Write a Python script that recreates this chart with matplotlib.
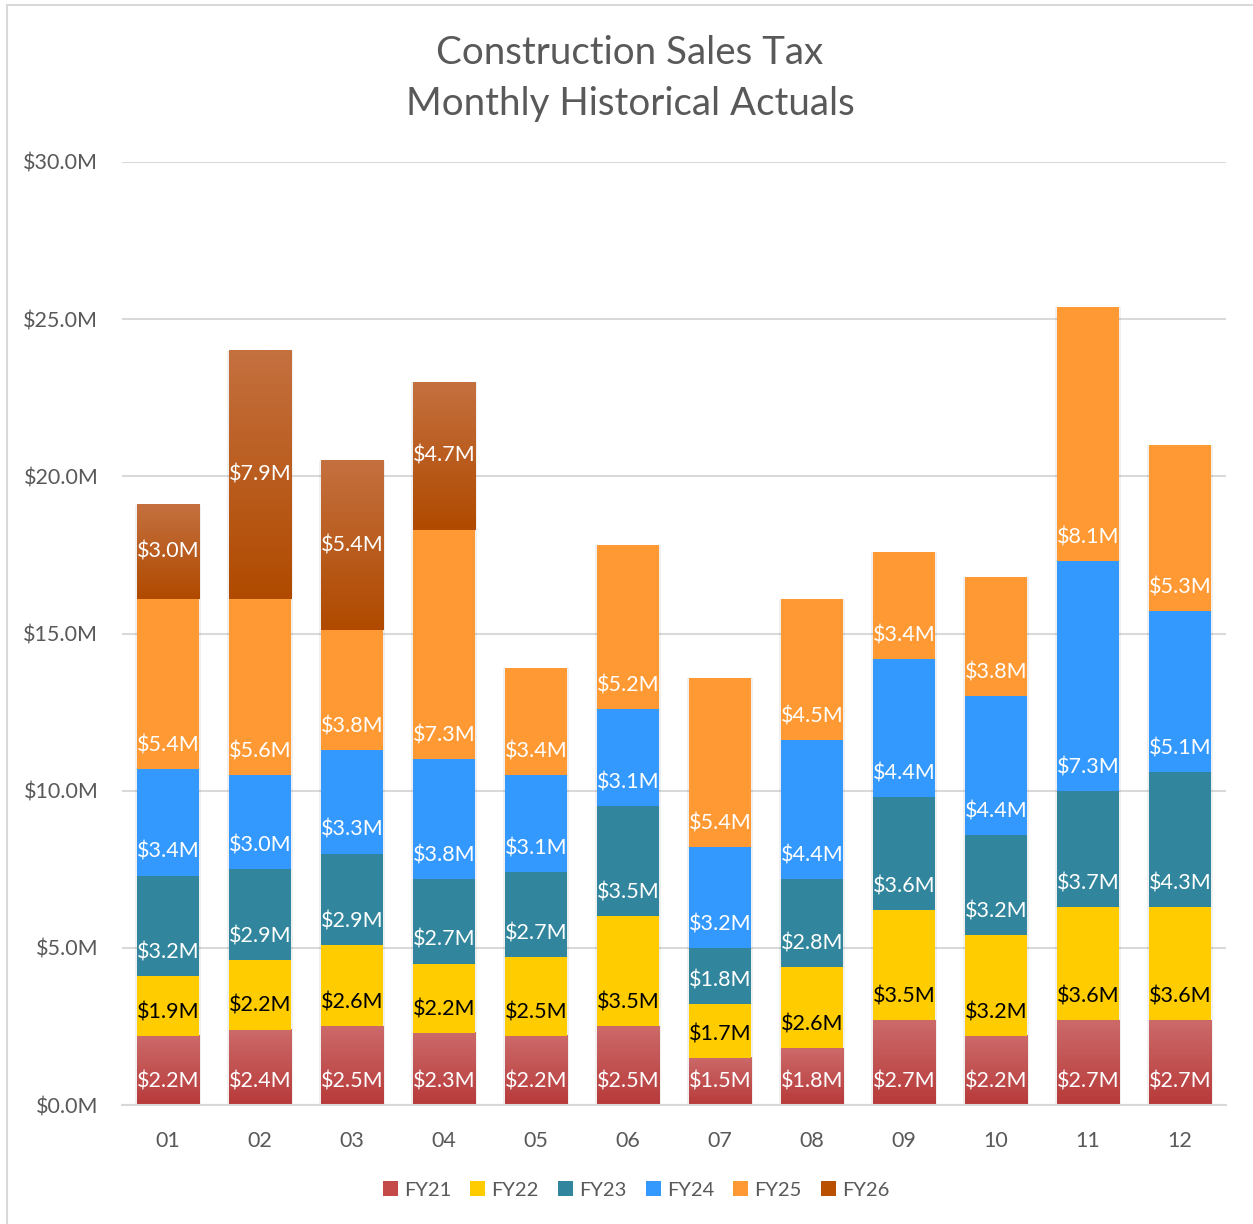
import numpy as np
import matplotlib
matplotlib.use("Agg")
import matplotlib.pyplot as plt
from matplotlib.colors import LinearSegmentedColormap
from matplotlib.patches import Rectangle, Patch

plt.rcParams['font.family'] = ['Lato', 'DejaVu Sans']

months = ['01', '02', '03', '04', '05', '06', '07', '08', '09', '10', '11', '12']
series = ['FY21', 'FY22', 'FY23', 'FY24', 'FY25', 'FY26']

fy21 = [2.2, 2.4, 2.5, 2.3, 2.2, 2.5, 1.5, 1.8, 2.7, 2.2, 2.7, 2.7]
fy22 = [1.9, 2.2, 2.6, 2.2, 2.5, 3.5, 1.7, 2.6, 3.5, 3.2, 3.6, 3.6]
fy23 = [3.2, 2.9, 2.9, 2.7, 2.7, 3.5, 1.8, 2.8, 3.6, 3.2, 3.7, 4.3]
fy24 = [3.4, 3.0, 3.3, 3.8, 3.1, 3.1, 3.2, 4.4, 4.4, 4.4, 7.3, 5.1]
fy25 = [5.4, 5.6, 3.8, 7.3, 3.4, 5.2, 5.4, 4.5, 3.4, 3.8, 8.1, 5.3]
fy26 = [3.0, 7.9, 5.4, 4.7, 0, 0, 0, 0, 0, 0, 0, 0]

values = [fy21, fy22, fy23, fy24, fy25, fy26]
colors = ['#C44A4A', '#FFCC00', '#31859C', '#3399FF', '#FF9933', '#B85000']
gradients = {0: ('#B83A3A', '#CC6A6A'), 5: ('#B04A00', '#C4703F')}
label_colors = ['white', 'black', 'white', 'white', 'white', 'white']

W, H = 1253, 1224
fig = plt.figure(figsize=(W / 100, H / 100), dpi=100)
ax = fig.add_axes([122 / W, 1 - 1105 / H, (1226 - 122) / W, (1105 - 162) / H])

# outer frame of the chart area
fig.patches.append(Rectangle((7 / W, -0.01), 1.05, 1 - 5 / H + 0.01, transform=fig.transFigure,
                             fill=False, edgecolor='#D9D9D9', linewidth=1.5))

x = np.arange(len(months))
width = 0.675
bottom = np.zeros(len(months))
ax.set_xlim(-0.5, 11.5)
ax.set_ylim(0, 30)

totals = np.sum(values, axis=0)
# soft shadow behind the bars
ax.bar(x, totals, width=width + 0.05, color='black', alpha=0.06, zorder=1)

for i, vals in enumerate(values):
    vals = np.array(vals)
    if i in gradients:
        ax.bar(x, vals, width=width, bottom=bottom, color='none', zorder=2)
        cmap = LinearSegmentedColormap.from_list('g%d' % i, gradients[i])
        grad = np.linspace(0, 1, 100).reshape(-1, 1)
        for xi, v, b in zip(x, vals, bottom):
            if v > 0:
                ax.imshow(grad, cmap=cmap, origin='lower', aspect='auto',
                          extent=[xi - width / 2, xi + width / 2, b, b + v], zorder=2)
    else:
        ax.bar(x, vals, width=width, bottom=bottom, color=colors[i], zorder=2)
    for xi, v, b in zip(x, vals, bottom):
        if v <= 0:
            continue
        if i == 5:
            ax.text(xi, b + v / 2, '$%.1fM' % v, ha='center', va='center',
                    color=label_colors[i], fontsize=15.5, zorder=4)
        else:
            ax.annotate('$%.1fM' % v, (xi, b), xytext=(0, 17), textcoords='offset points',
                        ha='center', va='center', color=label_colors[i], fontsize=15.5, zorder=4)
    bottom = bottom + vals

ax.set_xlim(-0.5, 11.5)
ax.set_ylim(0, 30)
ax.set_yticks(np.arange(0, 31, 5))
ax.set_yticklabels(['$%.1fM' % t for t in np.arange(0, 31, 5)])
ax.set_xticks(x)
ax.set_xticklabels(months)
ax.yaxis.grid(True, color='#D9D9D9', linewidth=1.5, zorder=0)
ax.set_axisbelow(True)
for s in ['top', 'right', 'left']:
    ax.spines[s].set_visible(False)
ax.spines['bottom'].set_color('#D9D9D9')
ax.spines['bottom'].set_linewidth(1.5)
ax.tick_params(axis='both', length=0, colors='#595959', labelsize=15.5)
ax.tick_params(axis='y', pad=17)
ax.tick_params(axis='x', pad=19)

title_x = 630 / W
fig.text(title_x, 1 - 53 / H, 'Construction Sales Tax', ha='center', va='center',
         fontsize=27.7, color='#595959')
fig.text(title_x, 1 - 104 / H, 'Monthly Historical Actuals', ha='center', va='center',
         fontsize=27.7, color='#595959')

legend_colors = ['#C44A4A', '#FFCC00', '#31859C', '#3399FF', '#FF9933', '#B85000']
handles = [Patch(facecolor=c, label=s) for c, s in zip(legend_colors, series)]
fig.legend(handles=handles, loc='center', bbox_to_anchor=(636 / W, 1 - 1190 / H),
           ncol=6, frameon=False, fontsize=14.5, labelcolor='#595959', handlelength=0.75,
           handleheight=0.75, handletextpad=0.3, columnspacing=0.95)

fig.savefig('out.png', dpi=100)
